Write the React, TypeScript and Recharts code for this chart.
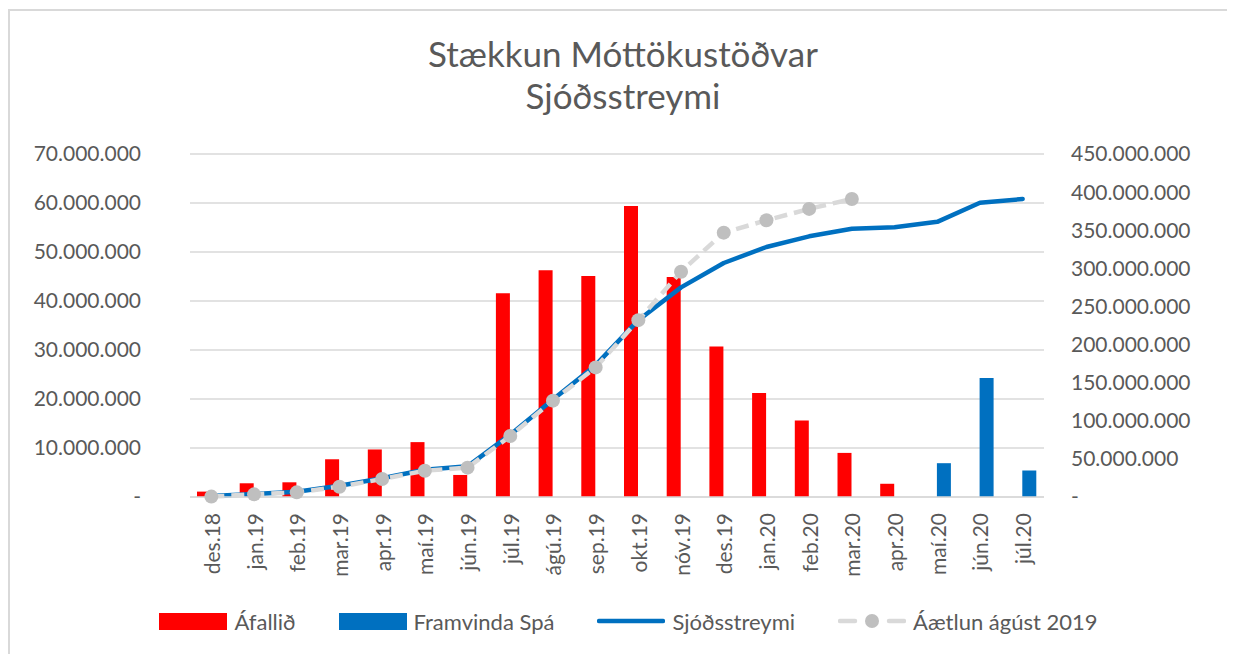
import { ComposedChart, Bar, Line, XAxis, YAxis, CartesianGrid, Legend } from "recharts";

// values in millions ISK
const months = [
  "des.18", "jan.19", "feb.19", "mar.19", "apr.19", "maí.19", "jún.19", "júl.19", "ágú.19", "sep.19",
  "okt.19", "nóv.19", "des.19", "jan.20", "feb.20", "mar.20", "apr.20", "maí.20", "jún.20", "júl.20",
];
const afallid = [1.1, 2.8, 3.0, 7.7, 9.7, 11.2, 4.5, 41.6, 46.3, 45.1, 59.4, 44.9, 30.7, 21.2, 15.6, 9.0, 2.7, null, null, null];
const framvindaSpa = [null, null, null, null, null, null, null, null, null, null, null, null, null, null, null, null, null, 6.9, 24.3, 5.4];
const sjodsstreymi = [1.2, 4.0, 7.0, 14.8, 24.5, 35.7, 40.2, 81.8, 128, 173, 232, 275, 307, 328, 342, 352, 354, 361, 386, 391];
const aaetlun = [0.5, 3.5, 6.1, 13.5, 23.6, 34.5, 38.5, 80, 126.4, 170, 232, 295.6, 346.8, 363, 378, 391, null, null, null, null];

const leftTicks = [0, 10, 20, 30, 40, 50, 60, 70];
const rightTicks = [0, 50, 100, 150, 200, 250, 300, 350, 400, 450];

const FONT = "Lato, 'Open Sans', sans-serif";
const TEXT = "#595959";
const RED = "#ff0000";
const BLUE = "#0070c0";
const GRID = "#d9d9d9";
const MARKER = "#bfbfbf";

const data = months.map((m, i) => ({
  month: m,
  afallid: afallid[i],
  spa: framvindaSpa[i],
  sjods: sjodsstreymi[i],
  aaetlun: aaetlun[i],
}));

const fmtMillions = (v: number) => {
  if (v === 0) return "-";
  return String(Math.round(v * 1000000)).replace(/\B(?=(\d{3})+(?!\d))/g, ".");
};

const MonthTick = ({ x, y, payload }: any) => (
  <text
    x={x}
    y={y}
    transform={`rotate(-90 ${x} ${y})`}
    textAnchor="end"
    dominantBaseline="central"
    fill={TEXT}
    fontSize={21}
    fontFamily={FONT}
  >
    {payload.value}
  </text>
);

const legendItems = [
  { label: "Áfallið", kind: "bar", color: RED },
  { label: "Framvinda Spá", kind: "bar", color: BLUE },
  { label: "Sjóðsstreymi", kind: "line", color: BLUE },
  { label: "Áætlun ágúst 2019", kind: "dash", color: GRID },
];

const LegendRow = () => (
  <div style={{ display: "flex", justifyContent: "center", alignItems: "center", gap: 43, height: 40, paddingLeft: 14 }}>
    {legendItems.map((it) => (
      <div key={it.label} style={{ display: "flex", alignItems: "center", gap: 7 }}>
        <svg width={68} height={20}>
          {it.kind === "bar" && <rect x={0} y={2} width={68} height={17} fill={it.color} />}
          {it.kind === "line" && (
            <line x1={2} y1={10} x2={66} y2={10} stroke={it.color} strokeWidth={4.5} strokeLinecap="round" />
          )}
          {it.kind === "dash" && (
            <g>
              <line x1={2} y1={10} x2={17} y2={10} stroke={it.color} strokeWidth={4.5} strokeLinecap="round" />
              <line x1={51} y1={10} x2={66} y2={10} stroke={it.color} strokeWidth={4.5} strokeLinecap="round" />
              <circle cx={34} cy={10} r={7} fill={MARKER} />
            </g>
          )}
        </svg>
        <span style={{ fontFamily: FONT, fontSize: 22, color: TEXT, whiteSpace: "nowrap" }}>{it.label}</span>
      </div>
    ))}
  </div>
);

export default function App() {
  return (
    <div style={{ position: "relative", width: 1227, height: 646, background: "#fff" }}>
      <div style={{ position: "absolute", left: 0, top: 1, width: 1227, height: 645, borderTop: `2px solid ${GRID}`, borderLeft: `2px solid ${GRID}`, boxSizing: "border-box" }} />
      <div
        style={{
          position: "absolute",
          left: 0,
          top: 25,
          width: 1230,
          textAlign: "center",
          fontFamily: FONT,
          fontWeight: 400,
          fontSize: 35,
          lineHeight: "41.5px",
          color: TEXT,
        }}
      >
        <div>Stækkun Móttökustöðvar</div>
        <div>Sjóðsstreymi</div>
      </div>
      <ComposedChart
        width={1227}
        height={646}
        data={data}
        margin={{ top: 146, right: 0, bottom: 13, left: 0 }}
        barGap={0}
        barSize={14}
      >
        <CartesianGrid yAxisId="left" vertical={false} stroke={GRID} strokeWidth={1.5} />
        <XAxis
          dataKey="month"
          height={104}
          interval={0}
          tick={<MonthTick />}
          tickSize={0}
          tickMargin={16}
          axisLine={{ stroke: GRID, strokeWidth: 1.5 }}
          tickLine={false}
        />
        <YAxis
          yAxisId="left"
          width={182}
          domain={[0, 70]}
          ticks={leftTicks}
          tickFormatter={fmtMillions}
          axisLine={false}
          tickLine={false}
          tickSize={0}
          tickMargin={49}
          tick={{ fill: TEXT, fontSize: 21, fontFamily: FONT }}
        />
        <YAxis
          yAxisId="right"
          orientation="right"
          width={191}
          domain={[0, 450]}
          ticks={rightTicks}
          tickFormatter={fmtMillions}
          axisLine={false}
          tickLine={false}
          tickSize={0}
          tickMargin={27}
          tick={{ fill: TEXT, fontSize: 21, fontFamily: FONT, textAnchor: "start" }}
        />
        <Legend verticalAlign="bottom" height={40} content={() => <LegendRow />} wrapperStyle={{ left: 0, width: 1227 }} />
        <Bar yAxisId="left" dataKey="afallid" name="Áfallið" fill={RED} isAnimationActive={false} />
        <Bar yAxisId="left" dataKey="spa" name="Framvinda Spá" fill={BLUE} isAnimationActive={false} />
        <Line
          yAxisId="right"
          dataKey="sjods"
          name="Sjóðsstreymi"
          stroke={BLUE}
          strokeWidth={4.5}
          dot={false}
          strokeLinejoin="round"
          strokeLinecap="round"
          isAnimationActive={false}
        />
        <Line
          yAxisId="right"
          dataKey="aaetlun"
          name="Áætlun ágúst 2019"
          stroke={GRID}
          strokeWidth={4.5}
          strokeDasharray="13 7"
          dot={{ r: 7, fill: MARKER, stroke: MARKER, strokeWidth: 0 }}
          isAnimationActive={false}
        />
      </ComposedChart>
    </div>
  );
}
